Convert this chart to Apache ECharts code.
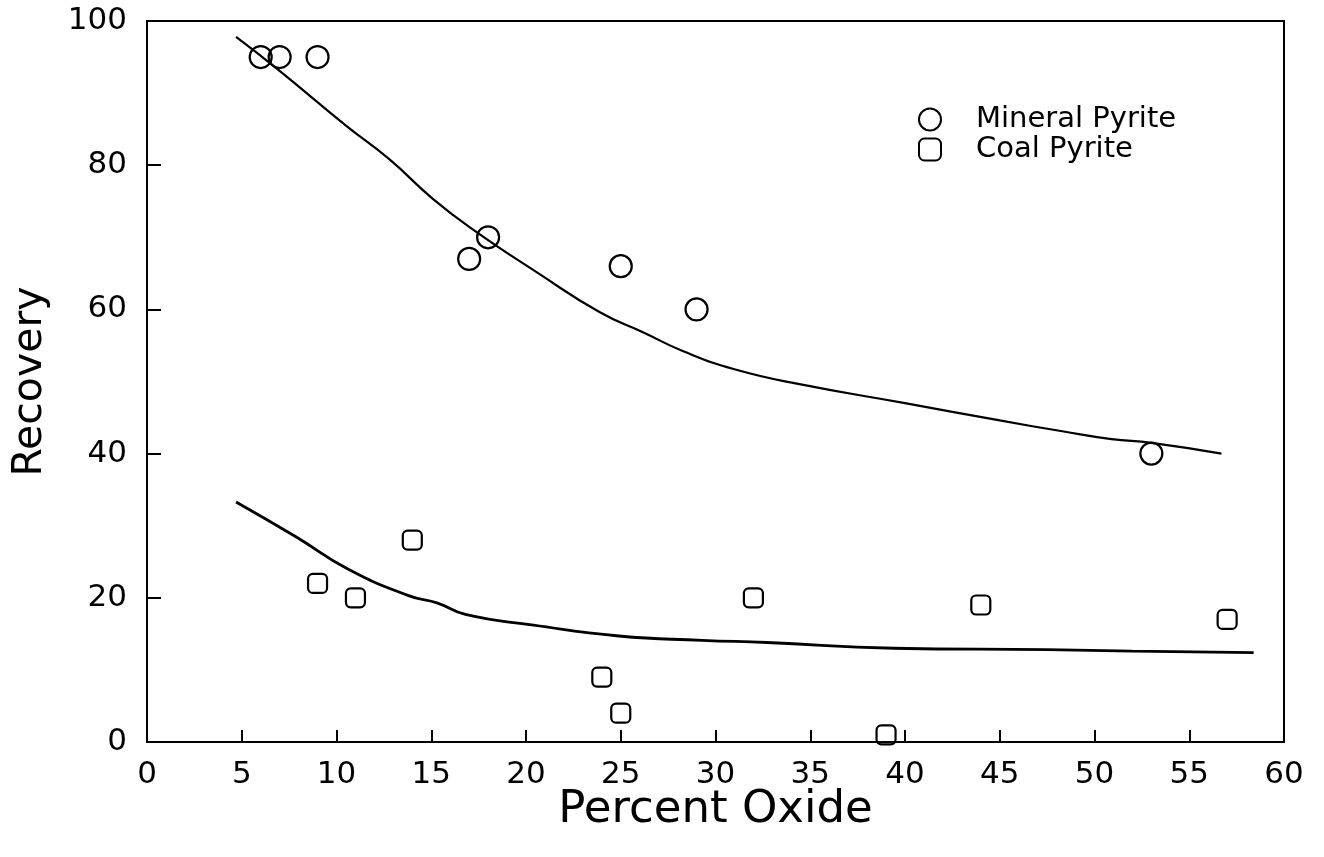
<!DOCTYPE html>
<html>
<head>
<meta charset="utf-8">
<script src="https://cdn.jsdelivr.net/npm/echarts@6/dist/echarts.min.js"></script>
<style>
html,body{margin:0;padding:0;background:#fff;}
#chart{width:1324px;height:857px;}
</style>
</head>
<body>
<div id="chart"></div>
<script>
// Measured points
var mineralX = [6, 7, 9, 17, 18, 25, 29, 53];
var mineralY = [95, 95, 95, 67, 70, 66, 60, 40];
var coalX = [9, 11, 14, 24, 25, 32, 39, 44, 57];
var coalY = [22, 20, 28, 9, 4, 20, 1, 19, 17];
// Fitted curves
var mineralFitX = [4.7, 6.9, 10.5, 12.8, 15.1, 17.3, 20.6, 23.9, 26.2, 28.3, 31.0, 34.5, 40, 45, 48.3, 50.9, 53, 56.7];
var mineralFitY = [97.8, 93.3, 85.5, 80.8, 75.3, 70.9, 65.1, 59.6, 56.8, 54.2, 51.7, 49.6, 47.0, 44.6, 43.1, 42.0, 41.5, 40.0];
var coalFitX = [4.7, 7.9, 10.6, 13.8, 15.3, 16.8, 20.4, 24.9, 29.3, 32.7, 39.4, 47.5, 52, 58.4];
var coalFitY = [33.3, 28.4, 24.0, 20.3, 19.3, 17.7, 16.2, 14.7, 14.1, 13.8, 13.0, 12.8, 12.6, 12.4];
// Axis settings
var xTicks = {min: 0, max: 60, interval: 5};
var yTicks = {min: 0, max: 100, interval: 20};
var seriesNames = ['Mineral Pyrite', 'Coal Pyrite'];

function zip(a, b) { return a.map(function (v, i) { return [v, b[i]]; }); }

var FONT = 'DejaVu Sans';
var INK = '#000';
var chart = echarts.init(document.getElementById('chart'));
chart.setOption({
  animation: false,
  backgroundColor: '#fff',
  grid: {left: 147, right: 40, top: 21, bottom: 115, show: true, borderColor: INK, borderWidth: 2, backgroundColor: 'transparent'},
  legend: {
    data: seriesNames,
    orient: 'vertical',
    left: 913,
    top: 100,
    itemWidth: 22,
    itemHeight: 22,
    itemGap: 1,
    textStyle: {fontFamily: FONT, fontSize: 29, color: INK, lineHeight: 22, padding: [0, 0, 0, 30]}
  },
  xAxis: {
    type: 'value', min: xTicks.min, max: xTicks.max, interval: xTicks.interval,
    name: 'Percent Oxide', nameLocation: 'middle', nameGap: 46, nameMoveOverlap: false,
    nameTextStyle: {fontFamily: FONT, fontSize: 45, color: INK},
    axisLine: {show: true, onZero: false, lineStyle: {color: INK, width: 2}},
    axisTick: {show: true, inside: true, length: 12, lineStyle: {color: INK, width: 2}},
    axisLabel: {fontFamily: FONT, fontSize: 31, color: INK, margin: 17},
    splitLine: {show: false}
  },
  yAxis: {
    type: 'value', min: yTicks.min, max: yTicks.max, interval: yTicks.interval,
    name: 'Recovery', nameLocation: 'middle', nameGap: 96, nameMoveOverlap: false,
    nameTextStyle: {fontFamily: FONT, fontSize: 41, color: INK},
    axisLine: {show: true, onZero: false, lineStyle: {color: INK, width: 2}},
    axisTick: {show: true, inside: true, length: 14, lineStyle: {color: INK, width: 2}},
    axisLabel: {fontFamily: FONT, fontSize: 31, color: INK, margin: 20},
    splitLine: {show: false}
  },
  series: [
    {name: 'mineralFit', type: 'line', smooth: true, showSymbol: false, symbol: 'none',
     data: zip(mineralFitX, mineralFitY), lineStyle: {color: INK, width: 2.2}, z: 2},
    {name: 'coalFit', type: 'line', smooth: true, showSymbol: false, symbol: 'none',
     data: zip(coalFitX, coalFitY), lineStyle: {color: INK, width: 2.8}, z: 2},
    {name: seriesNames[0], type: 'scatter', symbol: 'circle', symbolSize: 22,
     data: zip(mineralX, mineralY),
     itemStyle: {color: 'rgba(255,255,255,0)', borderColor: INK, borderWidth: 2.2, opacity: 1}, z: 3},
    {name: seriesNames[1], type: 'scatter', symbol: 'roundRect', symbolSize: 19,
     data: zip(coalX, coalY),
     itemStyle: {color: 'rgba(255,255,255,0)', borderColor: INK, borderWidth: 2.2, opacity: 1}, z: 3}
  ]
});
</script>
</body>
</html>
